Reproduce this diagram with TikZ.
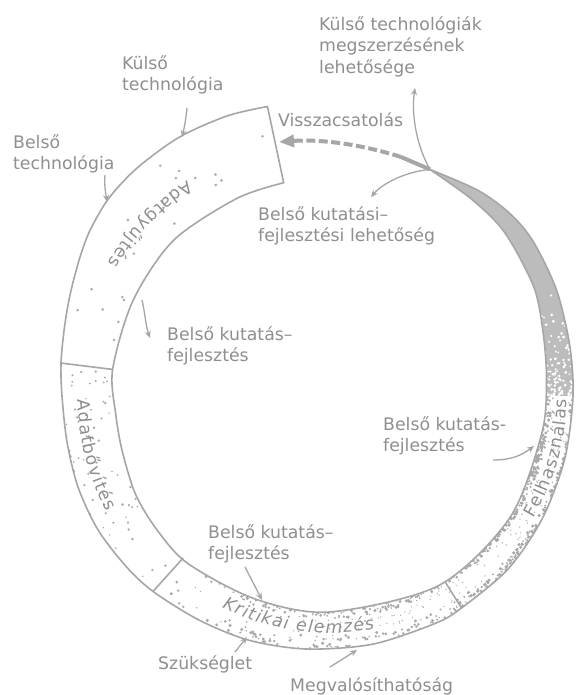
\documentclass[tikz,border=0pt]{standalone}
\usepackage{fontspec}
\newfontfamily\lbl{DejaVu Sans}
\usetikzlibrary{arrows.meta,decorations.text}
\definecolor{txt}{HTML}{8F8F8F}
\definecolor{linec}{HTML}{A6A6A6}
\definecolor{bandc}{HTML}{BCBCBC}
\definecolor{stip}{HTML}{A9A9A9}
\newcommand\lblfont{\lbl\fontsize{17.3}{21.6}\selectfont}
\newcommand\ringfont{\lbl\fontsize{17.3}{21.6}\selectfont\color{txt}\kern1.3pt}
\newcommand\ringfontit{\lbl\itshape\fontsize{17.3}{21.6}\selectfont\color{txt}\kern1.3pt}
\tikzset{
  lab/.style={font=\lblfont, text=txt, inner sep=0pt, anchor=north west, align=left},
  arr/.style={draw=linec, line width=1.3pt, -{Stealth[length=7pt,width=6pt]}},
  ringline/.style={draw=linec, line width=1.6pt, line join=round},
  ringshape/.style={insert path={
    plot[smooth] coordinates {(102:296) (110:298) (120:299) (130:298) (138:296) (145:291) (150:286) (155:281) (160:277) (166:273) (173:270) (180:267) (190:266) (200:267) (210:267) (220:265) (228:263) (240:259) (252:257) (265:254) (280:252) (295:251) (302:250) (316:249) (330:246) (345:244) (360:244) (372:246) (385:251) (397:256) (405:257) (414:254) (426:248)}
    -- plot[smooth] coordinates {(426:248) (414:243) (403:240) (388:232) (376:223) (364:218) (350:216) (326:218) (300:219) (270:216) (250:216) (230:219) (218:218) (207:217) (195:214) (185:214) (173:218) (154:218) (135:220) (115:218) (102:218)}
    -- cycle}},
  ringtext/.style={decorate, decoration={text along path, text align=center, text={#1}}},
}
\begin{document}
\begin{tikzpicture}[x=1pt,y=1pt]
\fill[white] (0,0) rectangle (575,695);
\useasboundingbox (0,0) rectangle (575,695);
\pgfmathsetseed{4321}
\begin{scope}[shift={(329,299)}]
  % Adatgyujtes stipple
  \begin{scope}
    \path[clip, ringshape];
    \clip (0,0) -- (102:340) arc[start angle=102, end angle=173, radius=340] -- cycle;
    \foreach \i in {1,...,20}{\pgfmathsetmacro\pA{104+67*rnd}\pgfmathsetmacro\pR{222+72*rnd}\fill[stip] (\pA:\pR) circle (1.4);}
  \end{scope}
  % Adatbovites stipple
  \begin{scope}
    \path[clip, ringshape];
    \clip (0,0) -- (173:340) arc[start angle=173, end angle=228, radius=340] -- cycle;
    \foreach \i in {1,...,80}{\pgfmathsetmacro\pA{173+55*rnd}\pgfmathsetmacro\pR{212+58*rnd}\pgfmathsetmacro\pS{0.8+0.6*rnd}\fill[stip] (\pA:\pR) circle (\pS);}
  \end{scope}
  % Kritikai stipple (lighter strip where the label runs)
  \begin{scope}
    \path[clip, ringshape];
    \clip (0,0) -- (228:340) arc[start angle=228, end angle=302, radius=340] -- cycle;
    \foreach \i in {1,...,460}{\pgfmathsetmacro\pA{228+74*sqrt(rnd)}\pgfmathsetmacro\pR{ifthenelse(rnd<0.45,212+10*rnd,240+23*rnd)}\pgfmathsetmacro\pS{0.7+1.0*rnd}\fill[stip] (\pA:\pR) circle (\pS);}
    \foreach \i in {1,...,60}{\pgfmathsetmacro\pA{228+74*sqrt(rnd)}\pgfmathsetmacro\pR{222+18*rnd}\fill[stip] (\pA:\pR) circle (0.7);}
  \end{scope}
  % Felhasznalas stipple (lighter strip where the label runs)
  \begin{scope}
    \path[clip, ringshape];
    \clip (0,0) -- (302:340) arc[start angle=302, end angle=362, radius=340] -- cycle;
    \foreach \i in {1,...,800}{\pgfmathsetmacro\pA{302+60*rnd}\pgfmathsetmacro\pR{ifthenelse(rnd<0.5,212+10*rnd,241+14*rnd)}\pgfmathsetmacro\pS{0.8+1.0*rnd}\fill[stip] (\pA:\pR) circle (\pS);}
    \foreach \i in {1,...,70}{\pgfmathsetmacro\pA{302+60*rnd}\pgfmathsetmacro\pR{222+19*rnd}\fill[stip] (\pA:\pR) circle (0.7);}
  \end{scope}
  % solid band
  \begin{scope}
    \path[clip, ringshape];
    \fill[bandc] (0,0) -- (360:340) arc[start angle=360, end angle=432, radius=340] -- cycle;
    \foreach \i in {1,...,170}{\pgfmathsetmacro\pA{360+26*rnd*rnd}\pgfmathsetmacro\pR{212+46*rnd}\pgfmathsetmacro\pS{0.8+0.8*rnd}\fill[white] (\pA:\pR) circle (\pS);}
  \end{scope}
  % outline and dividers
  \path[ringline, ringshape];
  \draw[ringline] (173:218) -- (173:270);
  \draw[ringline] (228:218) -- (228:263);
  \draw[ringline] (302:219) -- (302:250);
  % ring texts, set along the ring
  \path[ringtext={|\ringfont|Adatgyűjtés}] (108:258) arc[start angle=108, end angle=164, radius=258];
  \path[ringtext={|\ringfont|Adatbővítés}] (166:251) arc[start angle=166, end angle=222, radius=251];
  \path[ringtext={|\ringfontit|Kritikai elemzés}] (230:237) arc[start angle=230, end angle=294, radius=237];
  \path[ringtext={|\ringfont|Felhasználás}] (312:238) arc[start angle=312, end angle=376, radius=238];
\end{scope}

% labels
\node[lab] (kt) at (122,640) {Külső\\technológia};
\node[lab] (bt) at (13,561) {Belső\\technológia};
\node[lab] (ktm) at (319,679) {Külső technológiák\\megszerzésének\\lehetősége};
\node[lab] (vis) at (278,583) {Visszacsatolás};
\node[lab] (bkl) at (258,489) {Belső kutatási–\\fejlesztési lehetőség};
\node[lab] (bk1) at (167,369) {Belső kutatás–\\fejlesztés};
\node[lab] (bk2) at (383,279) {Belső kutatás-\\fejlesztés};
\node[lab] (bk3) at (208,171) {Belső kutatás–\\fejlesztés};
\node[lab] (szu) at (158,40) {Szükséglet};
\node[lab] (meg) at (290,18) {Megvalósíthatóság};

% connector end points
\coordinate (T) at (430,525.6);
\coordinate (a1s) at (187,587);  \coordinate (a1e) at (182,558);
\coordinate (a2s) at (105,520);  \coordinate (a2e) at (107,493);
\coordinate (a3s) at (142,395);  \coordinate (a3e) at (150,357);
\coordinate (a4s) at (493,235);  \coordinate (a4e) at (534,249);
\coordinate (a5s) at (245,128);  \coordinate (a5e) at (262,95);
\coordinate (a6s) at (235,43);   \coordinate (a6e) at (247,58);
\coordinate (a7s) at (330,28);   \coordinate (a7e) at (357,45);
\coordinate (up) at (415,607);
\coordinate (dl) at (371,498);
\coordinate (dmid) at (401,538);
\coordinate (dend) at (279,553);

\draw[arr] (a1s) .. controls (186,576) and (184,566) .. (a1e);
\draw[arr] (a2s) .. controls (104,510) and (106,500) .. (a2e);
\draw[arr] (a3s) .. controls (145,382) and (146,368) .. (a3e);
\draw[arr] (a4s) .. controls (512,235) and (522,240) .. (a4e);
\draw[arr] (a5s) -- (a5e);
\draw[arr] (a6s) -- (a6e);
\draw[arr] (a7s) -- (a7e);
\draw[arr] (T) .. controls (417,548) and (411,580) .. (up);
\draw[arr] (T) .. controls (405,523) and (383,512) .. (dl);
\draw[draw=linec, line width=4pt] (T) -- (dmid);
\draw[draw=linec, line width=4pt, dash pattern=on 9pt off 3.5pt, -{Triangle[length=15pt,width=12pt]}] (dmid) .. controls (360,551) and (320,556) .. (dend);
\end{tikzpicture}
\end{document}
